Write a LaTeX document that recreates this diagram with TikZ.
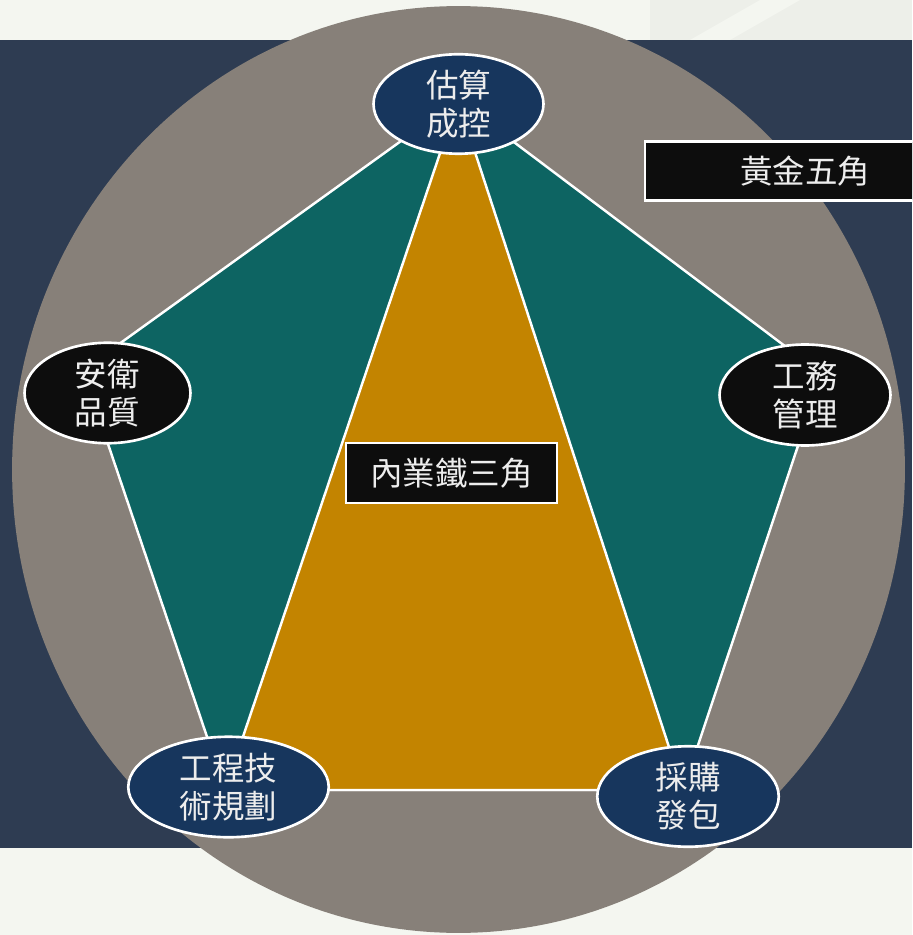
\documentclass[tikz,border=0pt]{standalone}
\usepackage{fontspec}
\setmainfont{Noto Sans CJK TC}
\usetikzlibrary{shapes.geometric}

\definecolor{bgpale}{HTML}{F4F6F0}
\definecolor{bgfaint}{HTML}{EDEFE9}
\definecolor{bandnavy}{HTML}{2E3C52}
\definecolor{discgray}{HTML}{878079}
\definecolor{penteal}{HTML}{0D6462}
\definecolor{trigold}{HTML}{C38400}
\definecolor{nodenavy}{HTML}{17365D}
\definecolor{nodeblack}{HTML}{0D0D0D}
\definecolor{labelwhite}{HTML}{EDEDED}

\tikzset{
	corner/.style={ellipse, draw=white, line width=1.5pt, text=labelwhite, align=center,
		inner sep=0pt, font=\fontsize{18.5}{21.5}\selectfont},
	tag/.style={rectangle, draw=white, line width=1.5pt, fill=nodeblack, text=labelwhite,
		inner sep=0pt, font=\fontsize{18.5}{21.5}\selectfont},
	edgeline/.style={draw=white, line width=1.4pt, line join=round}
}

\begin{document}
\begin{tikzpicture}[x=0.02cm, y=-0.02cm]
		\clip (0,0) rectangle (912,935);
		\fill[bgpale] (0,0) rectangle (912,935);
		\fill[bgfaint] (650,0) -- (912,0) -- (912,40) -- (650,40) -- cycle;
		\fill[bgpale] (690,40) -- (760,0) -- (800,0) -- (730,40) -- cycle;
		\fill[bandnavy] (0,40) rectangle (912,848);
		\fill[discgray] (458.5,469.5) ellipse [x radius=8.93cm, y radius=9.27cm];
		
		\coordinate (vtop) at (458,100);
		\coordinate (vleft) at (83,370);
		\coordinate (vright) at (822,374);
		\coordinate (vbl) at (225,790);
		\coordinate (vbr) at (683,790);
		
		\fill[penteal, edgeline] (vtop) -- (vright) -- (vbr) -- (vbl) -- (vleft) -- cycle;
		\fill[trigold, edgeline] (vtop) -- (vbr) -- (vbl) -- cycle;
		
		\node[corner, fill=nodenavy, minimum width=3.4cm, minimum height=1.99cm] (cost) at (458.5,104) {估算\\成控};
		\node[corner, fill=nodeblack, minimum width=3.32cm, minimum height=2.01cm] (safety) at (107.5,393) {安衛\\品質};
		\node[corner, fill=nodeblack, minimum width=3.42cm, minimum height=2.02cm] (works) at (805,395) {工務\\管理};
		\node[corner, fill=nodenavy, minimum width=4.01cm, minimum height=2.01cm] (tech) at (228.5,787) {工程技\\術規劃};
		\node[corner, fill=nodenavy, minimum width=3.63cm, minimum height=2.01cm] (purchase) at (688,796.5) {採購\\發包};
		
		\node[tag, minimum width=6.4cm, minimum height=1.18cm] (golden) at (805,171) {黃金五角};
		\node[tag, minimum width=4.22cm, minimum height=1.2cm] (iron) at (451.5,473) {內業鐵三角};
	\end{tikzpicture}
\end{document}
